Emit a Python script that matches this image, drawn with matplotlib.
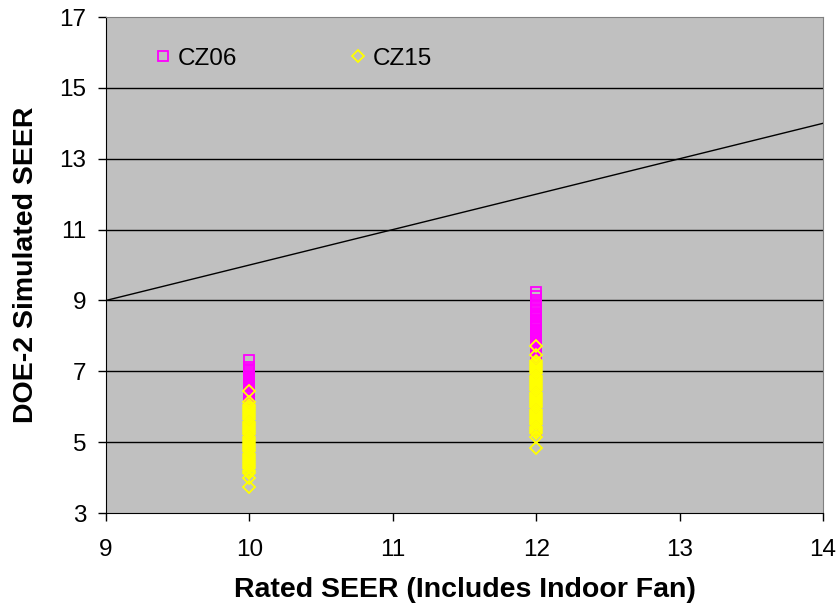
import matplotlib
matplotlib.use("Agg")
import matplotlib.pyplot as plt

plt.rcParams['font.family'] = ['Liberation Sans', 'DejaVu Sans']

# rated SEER positions for the two clusters
rated_10 = 10
rated_12 = 12

# CZ06 simulated SEER values (magenta squares)
cz06_at_10 = [7.32, 7.12, 7.07, 7.01, 6.96, 6.90, 6.85, 6.79, 6.73, 6.68, 6.62,
              6.57, 6.51, 6.46, 6.40, 6.34, 6.29, 6.23, 6.17, 6.10, 6.02, 5.94,
              5.86, 5.77, 5.69, 5.60, 5.52, 5.44, 5.35, 5.27, 5.18, 5.10, 5.02]
cz06_at_12 = [9.24, 9.12, 9.02, 8.90, 8.85, 8.79, 8.74, 8.68, 8.63, 8.57, 8.52,
              8.46, 8.41, 8.35, 8.30, 8.24, 8.19, 8.13, 8.08, 8.02, 7.97, 7.91,
              7.86, 7.80, 7.75, 7.69, 7.64, 7.58, 7.53, 7.47, 7.42, 7.36, 7.30,
              7.22, 7.13, 7.04, 6.95, 6.86, 6.77, 6.68, 6.59, 6.50, 6.41, 6.32,
              6.23, 6.14, 6.05, 5.96, 5.87, 5.78, 5.69, 5.60, 5.51, 5.42, 5.33]

# CZ15 simulated SEER values (yellow diamonds)
cz15_at_10 = [6.44, 6.12, 6.06, 6.00, 5.94, 5.88, 5.82, 5.76, 5.70, 5.64, 5.58,
              5.52, 5.46, 5.40, 5.34, 5.28, 5.22, 5.16, 5.10, 5.04, 4.98, 4.92,
              4.86, 4.80, 4.74, 4.68, 4.62, 4.56, 4.50, 4.44, 4.38, 4.32, 4.26,
              4.20, 4.14, 3.99, 3.73]
cz15_at_12 = [7.71, 7.46, 7.30, 7.24, 7.18, 7.12, 7.06, 7.00, 6.94, 6.88, 6.82,
              6.76, 6.70, 6.64, 6.58, 6.52, 6.46, 6.40, 6.34, 6.28, 6.22, 6.16,
              6.10, 6.04, 5.98, 5.92, 5.86, 5.80, 5.74, 5.68, 5.62, 5.56, 5.50,
              5.44, 5.38, 5.32, 5.26, 5.15, 4.83]

# 1:1 reference line
line_x = [9, 14]
line_y = [9, 14]

x_ticks = [9, 10, 11, 12, 13, 14]
y_ticks = [3, 5, 7, 9, 11, 13, 15, 17]

fig = plt.figure(figsize=(8.39, 6.08), dpi=100)
ax = fig.add_axes([0.1263, 0.1562, 0.8546, 0.8158])
ax.set_facecolor('#C0C0C0')

for y in y_ticks[1:-1]:
    ax.axhline(y, color='black', lw=1.0, zorder=1)

ax.plot(line_x, line_y, color='black', lw=1.0, zorder=2)

cz06_x = [rated_10] * len(cz06_at_10) + [rated_12] * len(cz06_at_12)
cz06_y = cz06_at_10 + cz06_at_12
cz15_x = [rated_10] * len(cz15_at_10) + [rated_12] * len(cz15_at_12)
cz15_y = cz15_at_10 + cz15_at_12

ax.plot(cz06_x, cz06_y, ls='none', marker='s', ms=7.5, mfc='none',
        mec='#FF00FF', mew=1.3, label='CZ06', zorder=3)
ax.plot(cz15_x, cz15_y, ls='none', marker='D', ms=6.0, mfc='none',
        mec='#FFFF00', mew=1.3, label='CZ15', zorder=4)

ax.set_xlim(9, 14)
ax.set_ylim(3, 17)
ax.set_xticks(x_ticks)
ax.set_yticks(y_ticks)
ax.tick_params(direction='out', length=6, width=1, labelsize=17.5)
ax.tick_params(axis='x', pad=13)
ax.tick_params(axis='y', pad=8)

ax.spines['left'].set_color('black')
ax.spines['bottom'].set_color('black')
ax.spines['top'].set_color('#808080')
ax.spines['right'].set_color('#808080')

ax.set_xlabel('Rated SEER (Includes Indoor Fan)', fontsize=20.5,
              fontweight='bold', va='center')
ax.set_ylabel('DOE-2 Simulated SEER', fontsize=20.5, fontweight='bold',
              va='center')
ax.xaxis.set_label_coords(0.5, -0.155)
ax.yaxis.set_label_coords(-0.112, 0.5)

ax.legend(loc='upper left', bbox_to_anchor=(0.063, 0.938), ncol=2,
          frameon=False, fontsize=17.5, handlelength=1.0, handletextpad=0.08,
          columnspacing=4.5, borderpad=0, borderaxespad=0)

fig.savefig('out.png', dpi=100)
